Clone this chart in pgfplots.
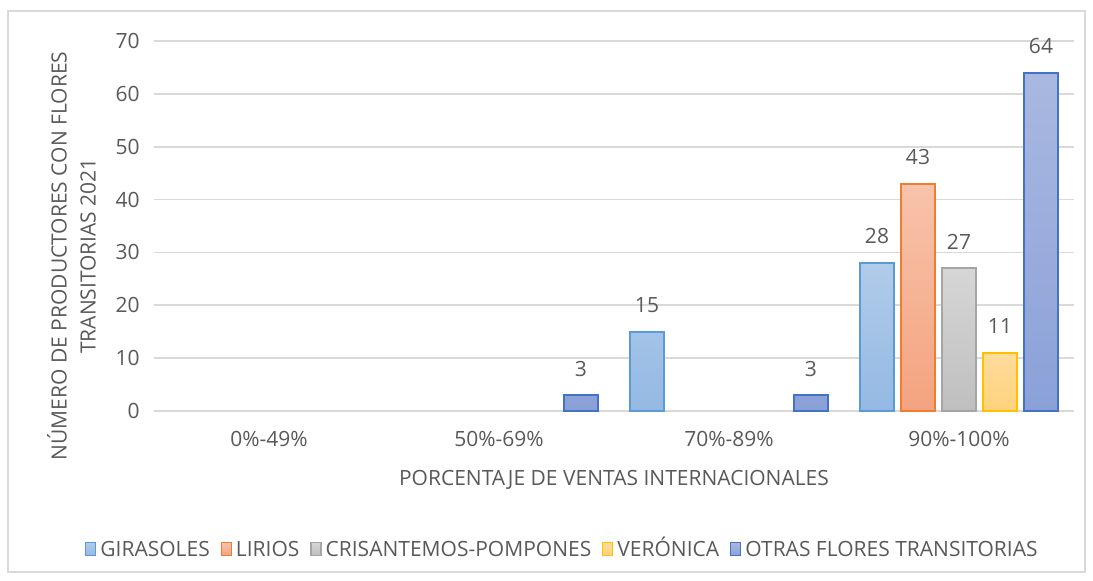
\documentclass[border=0pt]{standalone}
\usepackage{pgfplots}
\pgfplotsset{compat=1.18}
\usepackage{fontspec}
\setmainfont{Open Sans}
\definecolor{txt}{HTML}{595959}
\definecolor{gridc}{HTML}{D9D9D9}
\definecolor{bGir}{HTML}{5B9BD5}
\definecolor{tGir}{HTML}{B1CBEA}
\definecolor{uGir}{HTML}{94B9E3}
\definecolor{bLir}{HTML}{ED7D31}
\definecolor{tLir}{HTML}{F7C3AB}
\definecolor{uLir}{HTML}{F4A37F}
\definecolor{bCri}{HTML}{A5A5A5}
\definecolor{tCri}{HTML}{D6D6D6}
\definecolor{uCri}{HTML}{BFBFBF}
\definecolor{bVer}{HTML}{FFC000}
\definecolor{tVer}{HTML}{FFDC9C}
\definecolor{uVer}{HTML}{FFD27C}
\definecolor{bOtr}{HTML}{4472C4}
\definecolor{tOtr}{HTML}{A9B8E0}
\definecolor{uOtr}{HTML}{8AA1D8}
\begin{document}
\begin{tikzpicture}[font=\fontsize{10.5}{12.5}\selectfont]
\path[use as bounding box] (0,0) rectangle (546.5pt,290pt);
\draw[color=gridc, line width=0.6pt] (4pt,4pt) rectangle (542.5pt,284.5pt);
\begin{axis}[
  at={(77pt,84.5pt)}, anchor=south west,
  scale only axis, width=460pt, height=185pt,
  xmin=-0.5, xmax=3.5, ymin=0, ymax=70,
  ytick={0,10,...,70}, xtick={0,1,2,3},
  xticklabels={0\%-49\%,50\%-69\%,70\%-89\%,90\%-100\%},
  axis line style={draw=none},
  major tick length=0pt,
  ymajorgrids, grid style={color=gridc, line width=0.8pt},
  tick label style={color=txt, inner sep=0pt},
  /pgf/number format/assume math mode=true,
  yticklabel style={anchor=east}, yticklabel shift=7pt,
  xticklabel style={anchor=north}, xticklabel shift=10pt,
  xlabel={PORCENTAJE DE VENTAS INTERNACIONALES},
  xlabel style={at={(axis description cs:0.5,0)}, anchor=center, yshift=-34.5pt, color=txt},
  ylabel={NÚMERO DE PRODUCTORES CON FLORES\\TRANSITORIAS 2021},
  ylabel style={at={(axis description cs:-0.0897,0.419)}, anchor=center, align=center, color=txt, font=\fontsize{10.5}{14.5}\selectfont},
  ybar=3.5pt, bar width=17pt,
  nodes near coords,
  every node near coord/.append style={color=txt, anchor=south, inner sep=0pt, yshift=9pt},
  legend style={at={(axis description cs:0.445,-0.373)}, anchor=center, draw=none, fill=none,
    legend columns=-1, text=txt, font=\fontsize{10.5}{12.5}\selectfont,
    nodes={text height=10pt, text depth=2.5pt},
    /tikz/every even column/.append style={column sep=3.5pt}},
  legend image code/.code={\draw[#1, line width=0.6pt] (0pt,-3.2pt) rectangle (5pt,3.2pt);},
]
\addplot[draw=bGir, line width=0.9pt, top color=tGir, bottom color=uGir] coordinates {(2,15) (3,28)};
\addplot[draw=bLir, line width=0.9pt, top color=tLir, bottom color=uLir] coordinates {(3,43)};
\addplot[draw=bCri, line width=0.9pt, top color=tCri, bottom color=uCri] coordinates {(3,27)};
\addplot[draw=bVer, line width=0.9pt, top color=tVer, bottom color=uVer] coordinates {(3,11)};
\addplot[draw=bOtr, line width=0.9pt, top color=tOtr, bottom color=uOtr] coordinates {(1,3) (2,3) (3,64)};
\legend{GIRASOLES,LIRIOS,CRISANTEMOS-POMPONES,VERÓNICA,OTRAS FLORES TRANSITORIAS}
\end{axis}
\end{tikzpicture}
\end{document}
